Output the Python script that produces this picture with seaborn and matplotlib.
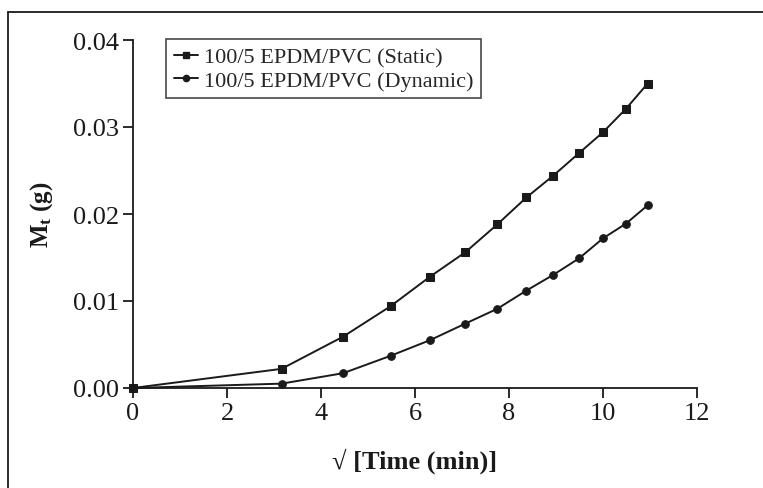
import matplotlib
matplotlib.use("Agg")
import matplotlib.pyplot as plt
import matplotlib.lines as mlines
import seaborn as sns
import pandas as pd

sqrt_time = [0.0, 3.16, 4.47, 5.48, 6.32, 7.07, 7.75, 8.37, 8.94, 9.49, 10.0, 10.49, 10.95]
static = [0.0, 0.0022, 0.0059, 0.0094, 0.0128, 0.0156, 0.0188, 0.0219, 0.0244, 0.0270, 0.0294, 0.0321, 0.0350]
dynamic = [0.0, 0.0005, 0.0017, 0.0037, 0.0055, 0.0074, 0.0091, 0.0112, 0.0130, 0.0149, 0.0172, 0.0189, 0.0210]
labels = ["100/5 EPDM/PVC (Static)", "100/5 EPDM/PVC (Dynamic)"]
xticks = [0, 2, 4, 6, 8, 10, 12]
yticks = [0.00, 0.01, 0.02, 0.03, 0.04]

sns.set_style("ticks")
plt.rcParams['font.family'] = ['Liberation Serif', 'DejaVu Serif']
plt.rcParams['mathtext.fontset'] = 'custom'
plt.rcParams['mathtext.rm'] = 'Liberation Serif'
plt.rcParams['mathtext.bf'] = 'Liberation Serif:bold'
plt.rcParams['mathtext.it'] = 'Liberation Serif:italic'

df = pd.DataFrame({
    "x": sqrt_time * 2,
    "y": static + dynamic,
    "series": [labels[0]] * len(static) + [labels[1]] * len(dynamic),
})

fig = plt.figure(figsize=(7.63, 4.89), dpi=100)
ax = fig.add_axes([133/763, 1-389/489, (697-133)/763, (389-41)/489])

sns.lineplot(data=df, x="x", y="y", style="series", hue="series",
             palette={labels[0]: "#1a1a1a", labels[1]: "#1a1a1a"},
             markers={labels[0]: "s", labels[1]: "o"},
             dashes=False, markersize=5.5, linewidth=1.4,
             markeredgecolor="#1a1a1a", ax=ax, legend=False, clip_on=False)

ax.set_xlim(0, 12)
ax.set_ylim(0, 0.04)
ax.set_xticks(xticks)
ax.set_xticklabels([str(t) for t in xticks])
ax.set_yticks(yticks)
ax.set_yticklabels([f"{t:.2f}" for t in yticks])
for s in ["top", "right"]:
    ax.spines[s].set_visible(False)
for s in ["left", "bottom"]:
    ax.spines[s].set_linewidth(1.3)
    ax.spines[s].set_color("#1a1a1a")
ax.tick_params(axis="both", direction="out", length=7, width=1.3, colors="#1a1a1a",
               labelsize=19, labelcolor="#1a1a1a", pad=3)

ax.set_xlabel("√ [Time (min)]", fontsize=19, fontweight="bold", labelpad=17, color="#1a1a1a")
ax.set_ylabel(r"$\mathbf{M}_{\mathbf{t}}$ (g)", fontsize=18, fontweight="bold", labelpad=13, color="#1a1a1a")

h1 = mlines.Line2D([], [], color="#1a1a1a", marker="s", markersize=5, linewidth=1.4)
h2 = mlines.Line2D([], [], color="#1a1a1a", marker="o", markersize=4.5, linewidth=1.4)
leg = ax.legend([h1, h2], labels, loc="upper left",
                bbox_to_anchor=((166-133)/564, (389-40)/348),
                frameon=True, fancybox=False, edgecolor="#1a1a1a", fontsize=16,
                handlelength=1.1, handletextpad=0.25, borderpad=0.35, labelspacing=0.12,
                borderaxespad=0)
leg.get_frame().set_linewidth(1.2)

# partial outer frame (left and top)
fig.add_artist(mlines.Line2D([8/763, 8/763], [0, 1-13/489], color="#1a1a1a", linewidth=1.3,
                             transform=fig.transFigure))
fig.add_artist(mlines.Line2D([8/763, 1], [1-13/489, 1-13/489], color="#1a1a1a", linewidth=1.3,
                             transform=fig.transFigure))

fig.savefig("out.png", dpi=100)
